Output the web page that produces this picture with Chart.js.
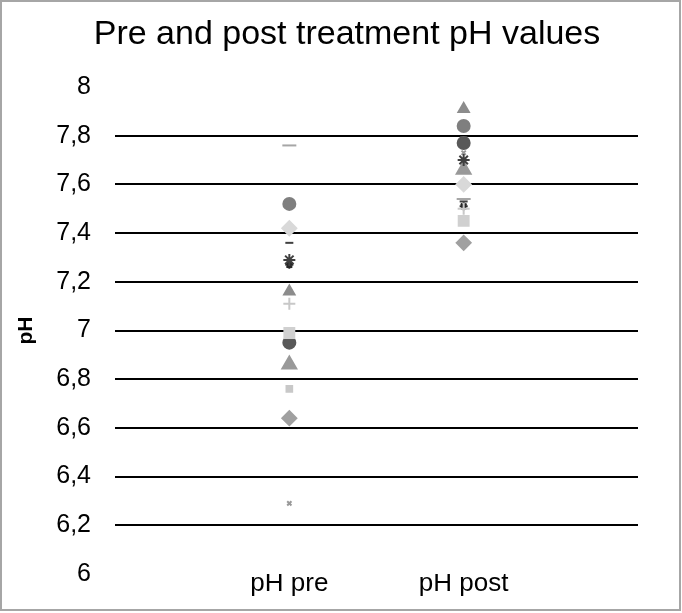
<!DOCTYPE html>
<html>
<head>
<meta charset="utf-8">
<script src="https://cdn.jsdelivr.net/npm/chart.js@4"></script>
<style>
  body { margin: 0; background: #fff; }
  .wrap { position: relative; width: 682px; height: 613px; }
  .frame { position: absolute; left: 0; top: 0; width: 681px; height: 611px; box-sizing: border-box; border: 2px solid #a6a6a6; pointer-events: none; }
</style>
</head>
<body>
<div class="wrap">
  <canvas id="chart" width="682" height="613"></canvas>
  <div class="frame"></div>
</div>
<script>
'use strict';

// ************************* DATA **********************************
const chartTitle = 'Pre and post treatment pH values';
const categories = ['pH pre', 'pH post'];
const yTickLabels = ['6', '6,2', '6,4', '6,6', '6,8', '7', '7,2', '7,4', '7,6', '7,8', '8'];
const preValues = [7.76, 7.52, 7.42, 7.36, 7.29, 7.16, 7.11, 6.99, 6.95, 6.86, 6.76, 6.64, 6.29, 7.27];
const postValues = [7.54, 7.84, 7.60, 7.53, 7.70, 7.91, 7.50, 7.45, 7.77, 7.66, 7.78, 7.36, 7.73, 7.51];

// one marker per patient
const markers = [
  { style: 'line', color: '#a6a6a6', r: 7 },
  { style: 'circle', color: '#7f7f7f', r: 6 },
  { style: 'rectRot', color: '#d9d9d9', r: 7 },
  { style: 'line', color: '#404040', r: 4 },
  { style: 'star', color: '#404040', r: 6 },
  { style: 'triangle', color: '#8c8c8c', r: 6 },
  { style: 'cross', color: '#c8c8c8', r: 6 },
  { style: 'rect', color: '#d0d0d0', r: 7 },
  { style: 'circle', color: '#595959', r: 6 },
  { style: 'triangle', color: '#999999', r: 8 },
  { style: 'rect', color: '#c8c8c8', r: 4 },
  { style: 'rectRot', color: '#a0a0a0', r: 7 },
  { style: 'crossRot', color: '#999999', r: 3 },
  { style: 'star', color: '#262626', r: 4 }
];

// ************************ BUILD DATASETS ********************************
const datasets = preValues.map((pre, i) => ({
  label: 'Patient ' + (i + 1),
  data: [{ x: 1, y: pre }, { x: 2, y: postValues[i] }],
  pointStyle: markers[i].style,
  pointRadius: markers[i].r,
  pointBackgroundColor: markers[i].color,
  pointBorderColor: markers[i].color,
  pointBorderWidth: 2
}));

const font = 'Liberation Sans, Arial, sans-serif';

// title drawn by hand so it sits where the original has it
const titlePlugin = {
  id: 'titleText',
  afterDraw(chart) {
    const ctx = chart.ctx;
    ctx.save();
    ctx.fillStyle = '#000';
    ctx.font = '34px ' + font;
    ctx.textAlign = 'center';
    ctx.textBaseline = 'middle';
    ctx.fillText(chartTitle, 347, 35);
    ctx.restore();
  }
};

new Chart(document.getElementById('chart'), {
  type: 'scatter',
  data: { datasets: datasets },
  plugins: [titlePlugin],
  options: {
    responsive: false,
    animation: false,
    layout: { padding: { left: 14, right: 44, top: 87, bottom: 0 } },
    plugins: {
      legend: { display: false },
      tooltip: { enabled: false },
      title: { display: false }
    },
    scales: {
      x: {
        type: 'linear',
        min: 0,
        max: 3,
        afterFit: (scale) => { scale.height = 39; },
        grid: { display: false },
        border: { display: false },
        ticks: {
          stepSize: 1,
          padding: -14,
          color: '#000',
          font: { family: font, size: 26 },
          callback: (v) => categories[v - 1] || ''
        }
      },
      y: {
        min: 6,
        max: 8,
        afterFit: (scale) => { scale.width = 101; },
        border: { display: false },
        grid: {
          drawTicks: false,
          lineWidth: 2,
          color: (ctx) => (ctx.index === 0 || ctx.index === 10) ? 'rgba(0,0,0,0)' : '#000'
        },
        ticks: {
          stepSize: 0.2,
          padding: 24,
          color: '#000',
          font: { family: font, size: 25 },
          callback: (v, i) => yTickLabels[i]
        },
        title: {
          display: true,
          text: 'pH',
          color: '#000',
          font: { family: font, size: 21, weight: 'bold' },
          padding: 0
        }
      }
    }
  }
});
</script>
</body>
</html>
